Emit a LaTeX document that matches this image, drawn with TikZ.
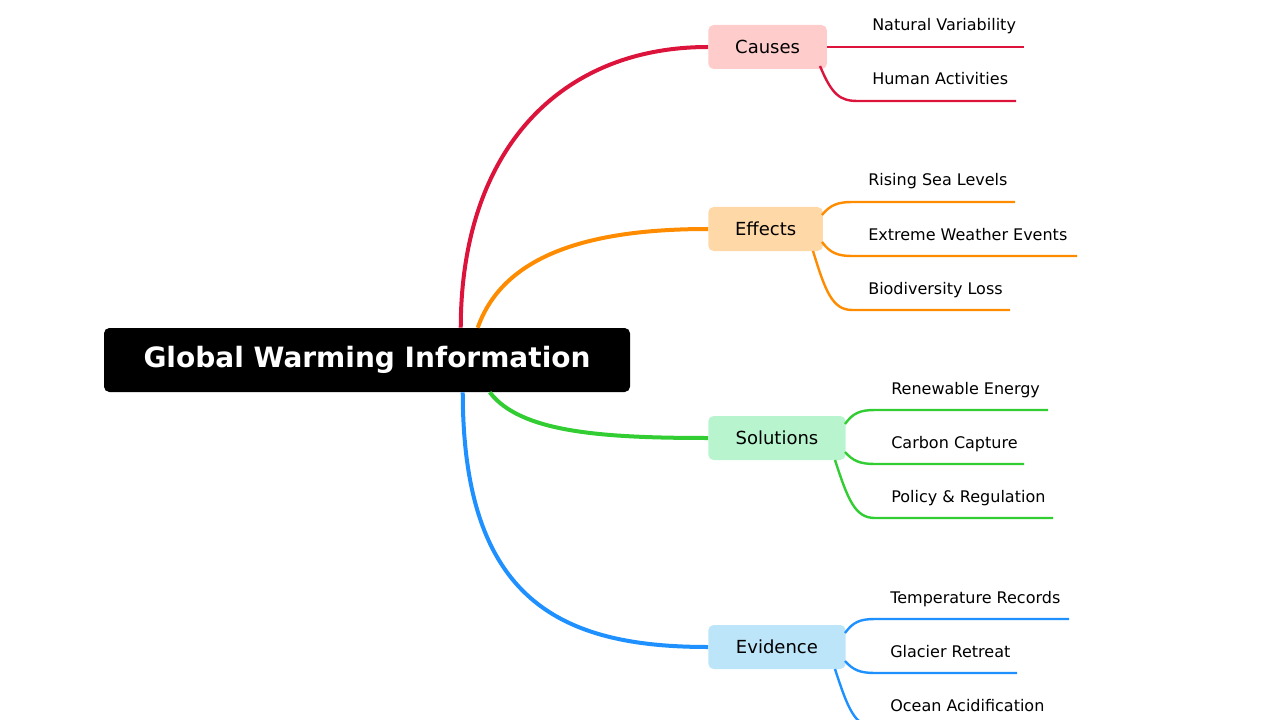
\documentclass[tikz,border=0pt]{standalone}
\usepackage{fontspec}
\setmainfont{DejaVu Sans}
\usetikzlibrary{calc}
\definecolor{cred}{HTML}{DC143C}
\definecolor{corange}{HTML}{FF8C00}
\definecolor{cgreen}{HTML}{32CD32}
\definecolor{cblue}{HTML}{1E90FF}
\definecolor{fred}{HTML}{FFCCCC}
\definecolor{forange}{HTML}{FFD8A8}
\definecolor{fgreen}{HTML}{B8F5CF}
\definecolor{fblue}{HTML}{BDE5FA}
\tikzset{
  branch/.style={line width=3pt},
  twig/.style={line width=1.8pt},
  cat/.style={rounded corners=4pt, inner sep=0pt, minimum height=33pt, font=\fontsize{13.5}{16}\selectfont, anchor=west},
  leaf/.style={font=\fontsize{12}{14}\selectfont, anchor=base west, inner sep=0pt}
}
\begin{document}
\begin{tikzpicture}[x=0.75pt,y=-0.75pt]
  \useasboundingbox (0,0) rectangle (1280,720);
  % root
  \node[fill=black, text=white, rounded corners=4pt, minimum width=394.5pt, minimum height=48pt,
        font=\fontsize{21}{24}\selectfont\bfseries] (root) at (367,360) {Global Warming Information};
  % categories
  \node[cat, fill=fred, minimum width=89pt] (causes) at (708,47) {Causes};
  \node[cat, fill=forange, minimum width=86pt] (effects) at (708,229) {Effects};
  \node[cat, fill=fgreen, minimum width=103pt] (solutions) at (708,438) {Solutions};
  \node[cat, fill=fblue, minimum width=103pt] (evidence) at (708,647) {Evidence};
  % main branches
  \draw[branch, cred] ($(root.north west)+(357,0)$) .. controls (461,150) and (560,47) .. (causes.west);
  \draw[branch, corange] ($(root.north west)+(374,0)$) .. controls (505,250) and (600,229) .. (effects.west);
  \draw[branch, cgreen] ($(root.south west)+(386,0)$) .. controls (520,432) and (600,438) .. (solutions.west);
  \draw[branch, cblue] ($(root.south west)+(359,0)$) .. controls (463,600) and (560,647) .. (evidence.west);
  % causes leaves
  \coordinate (c1) at (1024,47); \coordinate (c2) at (1016,101);
  \node[leaf] (nat) at (872,31) {Natural Variability};
  \node[leaf] (hum) at (872,85) {Human Activities};
  \draw[twig, cred] (causes.east) -- (c1);
  \draw[twig, cred] (820,66) .. controls (832,95) and (840,101) .. (858,101) -- (c2);
  % effects leaves
  \coordinate (e1) at (1015,202); \coordinate (e2) at (1077,256); \coordinate (e3) at (1010,310);
  \node[leaf] (sea) at (868,186) {Rising Sea Levels};
  \node[leaf] (ext) at (868,240) {Extreme Weather Events};
  \node[leaf] (bio) at (868,294) {Biodiversity Loss};
  \draw[twig, corange] (822,215) .. controls (830,205) and (838,202) .. (852,202) -- (e1);
  \draw[twig, corange] (822,242) .. controls (830,253) and (838,256) .. (852,256) -- (e2);
  \draw[twig, corange] (813,251) .. controls (825,290) and (832,310) .. (852,310) -- (e3);
  % solutions leaves
  \coordinate (s1) at (1048,410); \coordinate (s2) at (1024,464); \coordinate (s3) at (1053,518);
  \node[leaf] (ren) at (891,394) {Renewable Energy};
  \node[leaf] (car) at (891,448) {Carbon Capture};
  \node[leaf] (pol) at (891,502) {Policy \& Regulation};
  \draw[twig, cgreen] (845,424) .. controls (853,413) and (860,410) .. (875,410) -- (s1);
  \draw[twig, cgreen] (845,452) .. controls (853,461) and (860,464) .. (875,464) -- (s2);
  \draw[twig, cgreen] (835,460) .. controls (848,500) and (855,518) .. (875,518) -- (s3);
  % evidence leaves
  \coordinate (v1) at (1069,619); \coordinate (v2) at (1017,673); \coordinate (v3) at (1060,727);
  \node[leaf] (tem) at (890,603) {Temperature Records};
  \node[leaf] (gla) at (890,657) {Glacier Retreat};
  \node[leaf] (oce) at (890,711) {Ocean Acidification};
  \draw[twig, cblue] (845,633) .. controls (853,622) and (860,619) .. (875,619) -- (v1);
  \draw[twig, cblue] (845,661) .. controls (853,670) and (860,673) .. (875,673) -- (v2);
  \draw[twig, cblue] (835,669) .. controls (848,709) and (855,727) .. (875,727) -- (v3);
\end{tikzpicture}
\end{document}
